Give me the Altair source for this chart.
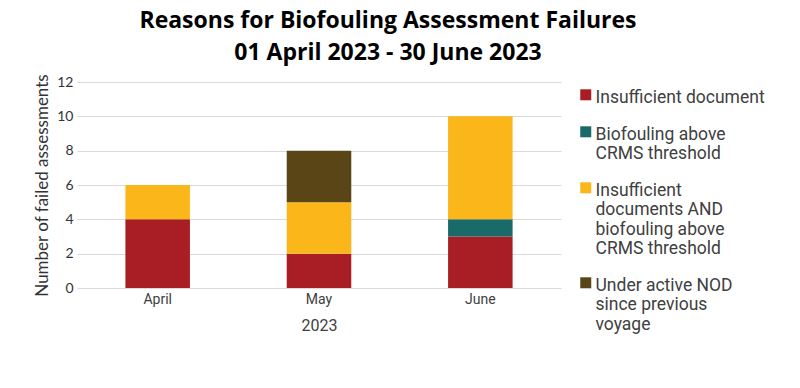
import altair as alt
import pandas as pd

months = ["April", "May", "June"]
categories = [
    "Insufficient document",
    "Biofouling above CRMS threshold",
    "Insufficient documents AND biofouling above CRMS threshold",
    "Under active NOD since previous voyage",
]
legend_lines = [
    "Insufficient document",
    "Biofouling above|CRMS threshold",
    "Insufficient|documents AND|biofouling above|CRMS threshold",
    "Under active NOD|since previous|voyage",
]
colors = ["#A81E24", "#1B6A6A", "#FBB619", "#5A4516"]
values = {
    "Insufficient document": [4, 2, 3],
    "Biofouling above CRMS threshold": [0, 0, 1],
    "Insufficient documents AND biofouling above CRMS threshold": [2, 3, 6],
    "Under active NOD since previous voyage": [0, 3, 0],
}

rows = []
for ci, (cat, lbl) in enumerate(zip(categories, legend_lines)):
    for mi, m in enumerate(months):
        rows.append({"month": m, "cat": lbl, "order": ci, "value": values[cat][mi]})
df = pd.DataFrame(rows)

chart = alt.Chart(df).mark_bar().encode(
    x=alt.X("month:N", sort=months, title="2023",
            scale=alt.Scale(paddingInner=0.6, paddingOuter=0.3),
            axis=alt.Axis(labelAngle=0, domain=False, ticks=False, labelPadding=4,
                          labelFont="Roboto", labelFontSize=14, labelColor="#404040",
                          titleFont="Roboto", titleFontSize=16, titleFontWeight="normal",
                          titleColor="#404040", titlePadding=11)),
    y=alt.Y("value:Q", stack="zero", title="Number of failed assessments",
            scale=alt.Scale(domain=[0, 12]),
            axis=alt.Axis(values=[0, 2, 4, 6, 8, 10, 12], domain=False, ticks=False,
                          gridColor="#d9d9d9", labelPadding=4,
                          labelFont="Lato", labelFontSize=14, labelColor="#333333",
                          titleFont="Lato", titleFontSize=17, titleFontWeight="normal",
                          titleColor="#333333", titlePadding=5)),
    color=alt.Color("cat:N", sort=legend_lines,
                    scale=alt.Scale(domain=legend_lines, range=colors),
                    legend=alt.Legend(title=None, orient="none", legendX=500, legendY=-2,
                                      symbolType="M-1,0.1H1V2.1H-1Z", symbolSize=121,
                                      symbolStrokeWidth=0, labelExpr="split(datum.label, '|')",
                                      labelFont="Roboto", labelFontSize=17.5,
                                      labelColor="#404040", labelLimit=300,
                                      labelBaseline="top", rowPadding=10,
                                      labelOffset=1)),
    order=alt.Order("order:Q"),
).properties(
    width=484, height=206,
    title=alt.Title(["Reasons for Biofouling Assessment Failures",
                     "01 April 2023 - 30 June 2023"],
                    font="Open Sans", fontSize=23, fontWeight="bold", color="#000000",
                    anchor="middle", dx=69, lineHeight=32, offset=8),
    autosize=alt.AutoSizeParams(type="none"),
    padding={"left": 69, "top": 74, "right": 210, "bottom": 80},
).configure_view(stroke=None)

chart.save("out.html", embed_options={"renderer": "svg", "actions": False})
